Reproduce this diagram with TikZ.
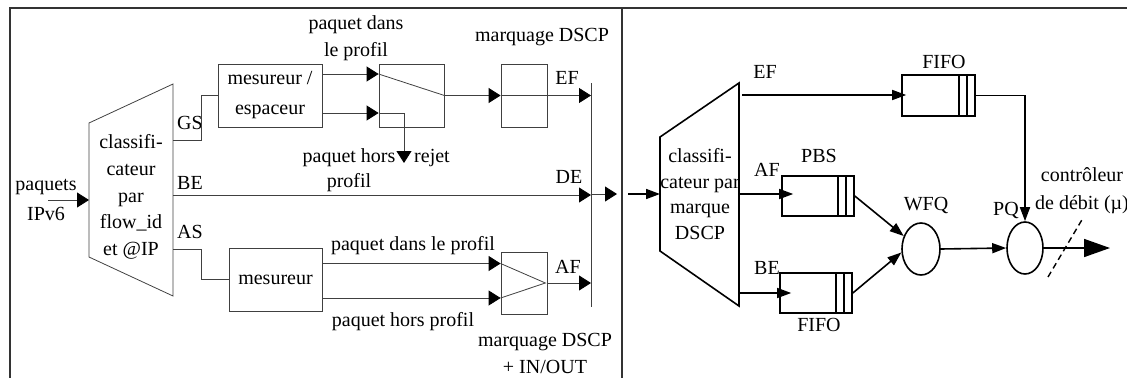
\documentclass[tikz,border=0pt]{standalone}
\usepackage{fontspec}
\setmainfont{Liberation Serif}
\usetikzlibrary{shapes.geometric, arrows.meta}

\tikzset{
  lbl/.style={inner sep=0pt, font=\fontsize{20}{24}\selectfont},
  boite/.style={draw=black!75, line width=0.8pt, inner sep=0pt, font=\fontsize{20}{24}\selectfont},
  fil/.style={draw=black!75, line width=0.8pt},
  fleche/.style={fil, -{Triangle[length=12pt,width=15pt,black]}},
  cadre/.style={draw=black!80, line width=1.2pt},
  bfil/.style={draw=black, line width=1.6pt},
  bfleche/.style={bfil, -{Triangle[length=14pt,width=10pt]}},
  fileattente/.style={draw, line width=1.6pt, inner sep=0pt, minimum width=72pt, minimum height=40pt,
    path picture={
      \draw[line width=1.6pt] ([xshift=-16pt]path picture bounding box.north east) -- ([xshift=-16pt]path picture bounding box.south east);
      \draw[line width=1.6pt] ([xshift=-8pt]path picture bounding box.north east) -- ([xshift=-8pt]path picture bounding box.south east);
    }},
  ordo/.style={draw, ellipse, line width=1.6pt, minimum width=38pt, minimum height=52pt, inner sep=0pt},
}

\begin{document}
\begin{tikzpicture}[x=1pt,y=-1pt]
\useasboundingbox (0,0) rectangle (1127,378);

% cadre et separation
\draw[cadre] (1127,8) -- (10,8) -- (10,378);
\draw[cadre] (622,8) -- (622,378);

% classificateur d'entree
\draw[fil] (89,123) -- (173,84) -- (173,296) -- (89,257) -- cycle;
\node[lbl, align=center, font=\fontsize{20}{26.75}\selectfont] (cls1) at (131,197) {classifi-\\cateur\\par\\flow\_id\\et @IP};
\coordinate (cls1in) at (89,200);
\coordinate (gs) at (173,140);
\coordinate (be) at (173,195);
\coordinate (as) at (173,249);

\node[lbl, align=center, font=\fontsize{20}{30}\selectfont] (paq) at (46,200) {paquets\\IPv6};
\coordinate (paqin) at (48,200);
\draw[fleche] (paqin) -- (cls1in);

\node[lbl] (lgs) at (190,123) {GS};
\node[lbl] (lbe) at (190,183) {BE};
\node[lbl] (las) at (190,232) {AS};

% branche GS
\node[boite, minimum width=104pt, minimum height=63pt, align=center, font=\fontsize{20}{30}\selectfont] (mes1) at (270,95.5) {mesureur /\\espaceur};
\node[boite, minimum width=65pt, minimum height=63pt] (sw1) at (411.5,95.5) {};
\node[boite, minimum width=46pt, minimum height=63pt] (mark1) at (524,95.5) {};

\node[lbl, align=center, font=\fontsize{20}{27}\selectfont] (pdans) at (356,38) {paquet dans\\le profil};
\node[lbl, align=center, font=\fontsize{20}{25}\selectfont] (phors) at (349,170) {paquet hors\\profil};
\node[lbl] (lrej) at (432,158) {rejet};
\node[lbl] (lmark1) at (542,37) {marquage DSCP};
\node[lbl] (lef1) at (567,78) {EF};
\node[lbl] (lde) at (569,177) {DE};

\draw[fil] (gs) -- ++(28,0) |- (mes1.west);
\draw[fleche] ([yshift=21.5pt]mes1.east) -- ([yshift=21.5pt]sw1.west);
\draw[fleche] ([yshift=-17.5pt]mes1.east) -- ([yshift=-17.5pt]sw1.west);
\draw[fil] ([yshift=21.5pt]sw1.west) -- (sw1.east);
\coordinate (rejtip) at (404,163);
\draw[fleche] ([yshift=-17.5pt]sw1.west) -| (rejtip);
\draw[fleche] (sw1.east) -- (mark1.west);
\draw[fil] (mark1.west) -- (mark1.east);

% barre de regroupement
\coordinate (bartop) at (591,83);
\coordinate (barbot) at (591,307);
\draw[fil] (bartop) -- (barbot);
\draw[fleche] (mark1.east) -- (mark1.east -| bartop);
\draw[fleche] (be) -- (be -| bartop);

% branche AS
\node[boite, minimum width=93pt, minimum height=63pt] (mes2) at (275.5,279.5) {mesureur};
\node[boite, minimum width=46pt, minimum height=62pt] (mark2) at (524,283) {};
\node[lbl] (pdans2) at (413,246) {paquet dans le profil};
\node[lbl] (phors2) at (403,322) {paquet hors profil};
\node[lbl, align=center, font=\fontsize{20}{27}\selectfont] (lmark2) at (545,353.5) {marquage DSCP\\+ IN/OUT};
\node[lbl] (laf1) at (568,267) {AF};

\draw[fil] (as) -- ++(28,0) |- (mes2.west);
\coordinate (in2a) at ([yshift=16pt]mes2.east);
\coordinate (in2b) at ([yshift=-18.5pt]mes2.east);
\draw[fleche] (in2a) -- (in2a -| mark2.west);
\draw[fleche] (in2b) -- (in2b -| mark2.west);
\coordinate (af2) at ([xshift=-2pt]mark2.east);
\draw[fil] (in2a -| mark2.west) -- (af2) -- (in2b -| mark2.west);
\draw[fleche] (mark2.east) -- (mark2.east -| bartop);

% passage vers le routeur de coeur
\coordinate (barout) at (617,194);
\coordinate (sepout) at (628,194);
\draw[fleche] (bartop |- barout) -- (barout);

% classificateur par marque
\draw[bfil] (660,137) -- (739,83) -- (739,306) -- (660,251) -- cycle;
\node[lbl, align=center, font=\fontsize{20}{25.7}\selectfont] (cls2) at (700,194) {classifi-\\cateur par\\marque\\DSCP};
\coordinate (cls2in) at (660,194);
\coordinate (ef2o) at (742,95);
\coordinate (af2o) at (739,194);
\coordinate (be2o) at (739,293);
\draw[bfleche] (sepout) -- (cls2in);

\node[lbl] (lef2) at (765,72) {EF};
\node[lbl] (laf2) at (767,170) {AF};
\node[lbl] (lbe2) at (767,268) {BE};

% files d'attente
\node[fileattente, minimum width=73pt, minimum height=41pt] (fifo1) at (938.5,95.5) {};
\node[fileattente] (pbs) at (818,196) {};
\node[fileattente] (fifo2) at (816,293) {};
\node[lbl] (lfifo1) at (944,62) {FIFO};
\node[lbl] (lpbs) at (819,156) {PBS};
\node[lbl] (lfifo2) at (819,325) {FIFO};

\draw[bfleche, shorten >=-5pt] (ef2o) -- (ef2o -| fifo1.west);
\draw[bfleche, shorten >=-12pt] (af2o) -- (af2o -| pbs.west);
\draw[bfleche, shorten >=-12pt] (be2o) -- (be2o -| fifo2.west);

% ordonnanceurs
\node[ordo] (wfq) at (921,249) {};
\node[ordo, minimum width=36pt] (pq) at (1025,248) {};
\node[lbl] (lwfq) at (926,205) {WFQ};
\node[lbl] (lpq) at (1006,210) {PQ};
\node[lbl, align=center, font=\fontsize{20}{28}\selectfont] (lctrl) at (1082,191) {contrôleur\\de débit (µ)};

\draw[bfleche] (pbs.east) -- (wfq.143);
\draw[bfleche] (fifo2.east) -- (wfq.190);
\draw[bfleche] (fifo1.east) -| (pq.north);
\draw[bfleche] (wfq.east) -- (pq.west);
\coordinate (sortie) at (1110,248);
\draw[bfil, -{Triangle[length=26pt,width=18pt]}] (pq.east) -- (sortie);
\draw[line width=1.4pt, dash pattern=on 6pt off 4pt] (1048,277) -- (1083,218);
\end{tikzpicture}
\end{document}
